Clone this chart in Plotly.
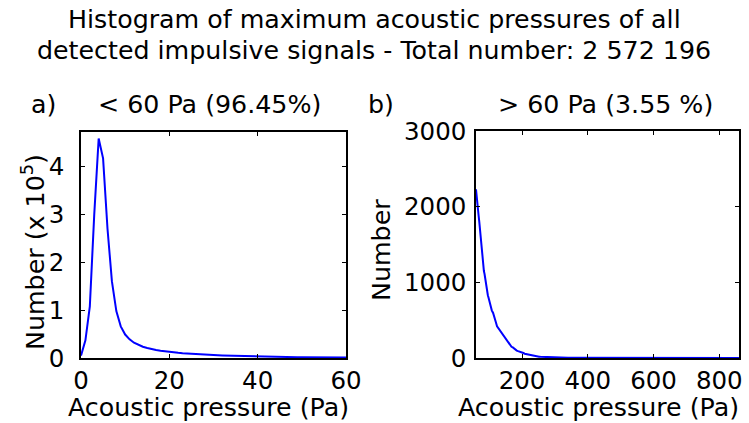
import plotly.graph_objects as go

# ---- data ----
# panel a: pressures < 60 Pa, counts in units of 1e5
a_pressure = list(range(0, 61))
a_count = [0.05, 0.37, 1.08, 3.0, 4.585, 4.17, 2.7, 1.6, 0.98, 0.66,
           0.49, 0.39, 0.32, 0.27, 0.235, 0.21, 0.185, 0.168, 0.152, 0.138,
           0.127, 0.117, 0.108, 0.1, 0.093, 0.087, 0.081, 0.076, 0.071, 0.066,
           0.060, 0.056, 0.052, 0.049, 0.045, 0.042, 0.039, 0.036, 0.033, 0.031,
           0.028, 0.027, 0.025, 0.024, 0.022, 0.020, 0.019, 0.018, 0.017, 0.016,
           0.015, 0.014, 0.014, 0.013, 0.013, 0.012, 0.012, 0.011, 0.011, 0.010,
           0.010]

# panel b: pressures > 60 Pa, counts
b_pressure = [60, 62, 64, 66, 68, 70, 72, 74, 76, 78, 80, 82, 84, 86, 88, 90, 92, 94, 96, 98,
              100, 104, 108, 112, 116, 120, 124, 128, 132, 136, 140, 144, 148, 152, 156, 160,
              164, 168, 172, 176, 180, 184, 188, 192, 196, 200, 204, 208, 212, 216, 220,
              224, 228, 232, 236, 240, 244, 248, 252, 256, 260, 264, 268, 272, 276, 280,
              284, 288, 292, 296, 300, 310, 320, 330, 340, 350, 360, 380, 400, 420, 440,
              460, 480, 500, 520, 540, 560, 580, 600, 620, 640, 660, 680, 700, 720, 740,
              760, 780, 800, 820, 840, 860]
b_count = [2230, 2160, 2080, 1990, 1880, 1800, 1700, 1610, 1480, 1390, 1310, 1240, 1150, 1110,
           1040, 990, 950, 900, 830, 800,
           760, 700, 630, 595, 520, 480, 420, 395, 370, 335, 318, 285, 262, 232, 212, 190,
           172, 148, 140, 124, 116, 98, 90, 86, 76, 70, 66, 57, 53, 45, 42,
           38, 33, 30, 27, 24, 22, 20, 17, 16, 15, 13, 12, 11, 10, 9,
           8, 7, 7, 6, 6, 5, 4, 4, 3, 3, 3, 2, 2, 2, 1,
           1, 1, 1, 1, 1, 1, 1, 1, 1, 1, 1, 1, 1, 1, 1,
           1, 1, 1, 1, 1, 1]

a_xticks = [0, 20, 40, 60]
a_yticks = [0, 1, 2, 3, 4]
b_xticks = [200, 400, 600, 800]
b_yticks = [0, 1000, 2000, 3000]

title_line1 = "Histogram of maximum acoustic pressures of all"
title_line2 = "detected impulsive signals - Total number: 2 572 196"

W, H = 749, 423
FONT = "DejaVu Sans, Liberation Sans, Arial, sans-serif"
FS_TICK = 24.5
FS_TEXT = 25.3

def px(x):
    return x / W

def py(y):
    return 1 - y / H

fig = go.Figure()
fig.add_trace(go.Scatter(x=a_pressure, y=a_count, mode="lines",
                         line=dict(color="#0000ff", width=2), xaxis="x", yaxis="y",
                         showlegend=False))
fig.add_trace(go.Scatter(x=b_pressure, y=b_count, mode="lines",
                         line=dict(color="#0000ff", width=2), xaxis="x2", yaxis="y2",
                         showlegend=False))

axis_common = dict(showline=True, linecolor="black", linewidth=1.5, mirror="ticks",
                   ticks="inside", ticklen=4, tickwidth=1, tickcolor="black",
                   showgrid=False, zeroline=False, automargin=False,
                   tickfont=dict(family=FONT, size=FS_TICK, color="black"))

fig.update_layout(
    width=W, height=H, autosize=False,
    margin=dict(l=0, r=0, t=0, b=0, pad=0, autoexpand=False),
    paper_bgcolor="white", plot_bgcolor="white",
    font=dict(family=FONT, size=FS_TEXT, color="black"),
    xaxis=dict(domain=[px(81), px(346)], range=[0, 60], tickvals=a_xticks,
               anchor="y", ticklabelstandoff=0, **axis_common),
    yaxis=dict(domain=[py(358), py(132)], range=[0, 4.72], tickvals=a_yticks,
               anchor="x", ticklabelstandoff=10, **axis_common),
    xaxis2=dict(domain=[px(476), px(739)], range=[60, 860], tickvals=b_xticks,
                anchor="y2", ticklabelstandoff=0, **axis_common),
    yaxis2=dict(domain=[py(358), py(131)], range=[0, 3000], tickvals=b_yticks,
                anchor="x2", ticklabelstandoff=3, **axis_common),
)

def ann(text, x, y, angle=0):
    fig.add_annotation(text=text, x=px(x), y=py(y), xref="paper", yref="paper",
                       showarrow=False, xanchor="center", yanchor="middle",
                       textangle=angle, borderpad=0,
                       font=dict(family=FONT, size=FS_TEXT, color="black"))

ann(title_line1, 374, 20)
ann(title_line2, 374, 51)
ann("a)", 43, 104)
ann("&lt; 60 Pa (96.45%)", 210, 104)
ann("b)", 381, 104)
ann("&gt; 60 Pa (3.55 %)", 605, 104)
ann("Acoustic pressure (Pa)", 208, 407)
ann("Acoustic pressure (Pa)", 598, 407)
ann("Number (x 10<sup>5</sup>)", 33, 252, angle=-90)
ann("Number", 382, 250, angle=-90)

fig.write_html(
    "out.html",
    config={"displayModeBar": False},
    post_script="document.body.style.margin='0';"
                "document.body.style.overflow='hidden';"
                "document.documentElement.style.overflow='hidden';",
)
